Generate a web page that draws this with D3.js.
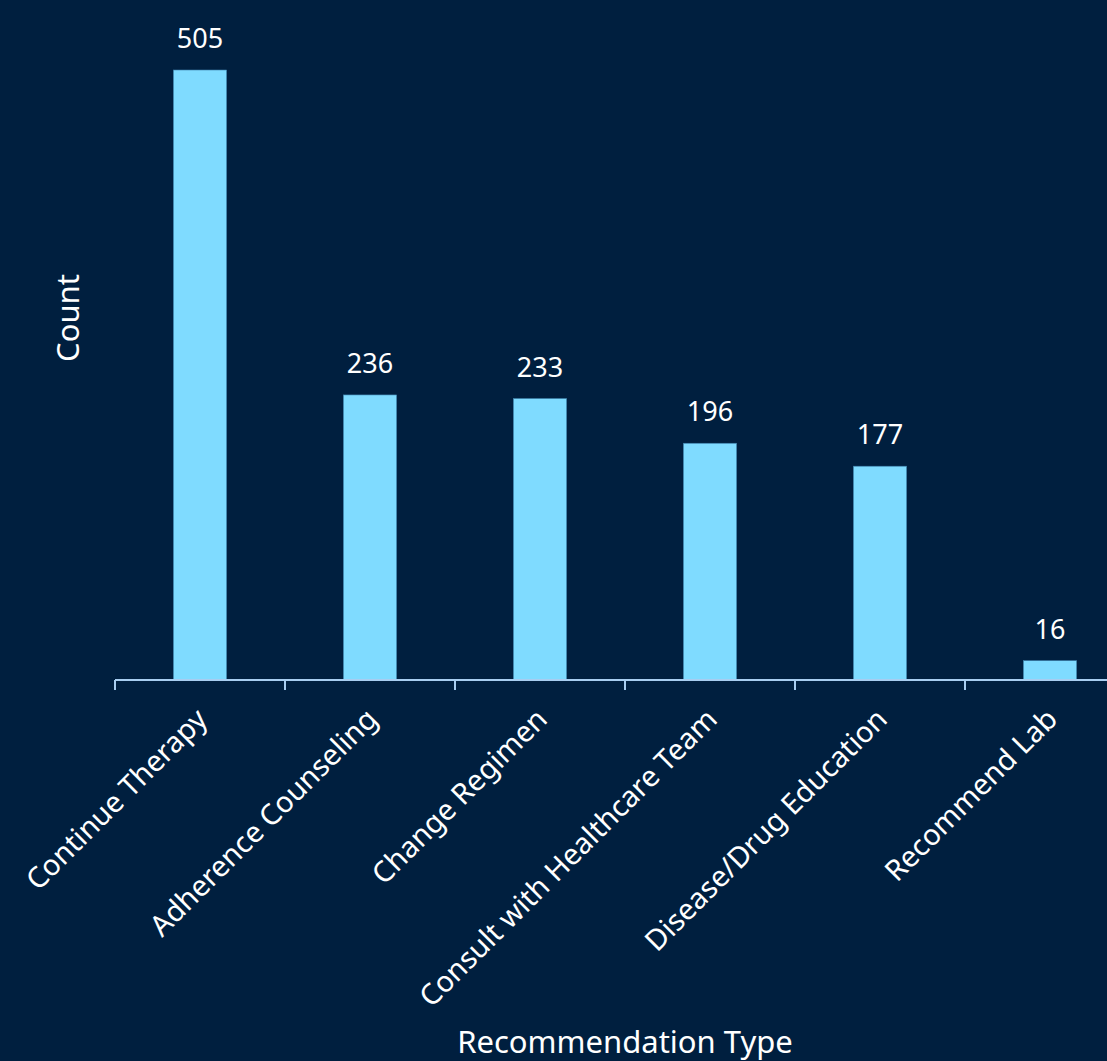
<!DOCTYPE html>
<html>
<head>
<meta charset="utf-8">
<script src="https://cdn.jsdelivr.net/npm/d3@7"></script>
<style>
  html, body { margin: 0; padding: 0; background: #001f3f; overflow: hidden; }
  text { font-family: "Noto Sans", "Open Sans", sans-serif; fill: #ffffff; }
</style>
</head>
<body>
<svg width="1107" height="1061"></svg>
<script>
var categories = ["Continue Therapy", "Adherence Counseling", "Change Regimen",
	"Consult with Healthcare Team", "Disease/Drug Education", "Recommend Lab"];
var counts = [505, 236, 233, 196, 177, 16];

var svg = d3.select("svg");
var width = +svg.attr("width"),
	height = +svg.attr("height");

svg.append("rect")
	.attr("width", width)
	.attr("height", height)
	.attr("fill", "#001f3f");

var margin = { left: 115, top: 70, bottom: 381 };
var plotWidth = 1020;
var baseY = height - margin.bottom;

var x = d3.scaleBand()
	.domain(categories)
	.range([margin.left, margin.left + plotWidth]);

var y = d3.scaleLinear()
	.domain([0, d3.max(counts)])
	.range([baseY, margin.top]);

var barWidth = 53.3;

//bars
svg.selectAll(".bar")
	.data(counts)
	.enter()
	.append("rect")
	.attr("class", "bar")
	.attr("x", function(d, i) { return x(categories[i]) + x.bandwidth() / 2 - barWidth / 2; })
	.attr("y", function(d) { return y(d); })
	.attr("width", barWidth)
	.attr("height", function(d) { return baseY - y(d); })
	.attr("fill", "#7fdbff")
	.attr("stroke", "#3d7fa8")
	.attr("stroke-width", 0.6);

//value labels
svg.selectAll(".val")
	.data(counts)
	.enter()
	.append("text")
	.attr("class", "val")
	.attr("x", function(d, i) { return x(categories[i]) + x.bandwidth() / 2; })
	.attr("y", function(d) { return y(d) - 22; })
	.attr("text-anchor", "middle")
	.style("font-size", "27px")
	.text(function(d) { return d; });

//x axis line + ticks at band starts
var axisColor = "#a8cdf0";
svg.append("line")
	.attr("x1", margin.left)
	.attr("x2", margin.left + plotWidth)
	.attr("y1", baseY)
	.attr("y2", baseY)
	.attr("stroke", axisColor)
	.attr("stroke-width", 2);

svg.selectAll(".tick")
	.data(categories)
	.enter()
	.append("line")
	.attr("class", "tick")
	.attr("x1", function(d) { return x(d); })
	.attr("x2", function(d) { return x(d); })
	.attr("y1", baseY)
	.attr("y2", baseY + 10)
	.attr("stroke", axisColor)
	.attr("stroke-width", 2);

//rotated category labels
svg.selectAll(".cat")
	.data(categories)
	.enter()
	.append("text")
	.attr("class", "cat")
	.attr("text-anchor", "end")
	.attr("transform", function(d) {
		return "translate(" + (x(d) + x.bandwidth() / 2 + 9) + "," + (baseY + 41) + ") rotate(-45)";
	})
	.style("font-size", "29px")
	.text(function(d) { return d; });

//axis titles
svg.append("text")
	.attr("x", margin.left + plotWidth / 2)
	.attr("y", 1053)
	.attr("text-anchor", "middle")
	.style("font-size", "31px")
	.text("Recommendation Type");

svg.append("text")
	.attr("transform", "translate(79," + 318 + ") rotate(-90)")
	.attr("text-anchor", "middle")
	.style("font-size", "31px")
	.text("Count");
</script>
</body>
</html>
